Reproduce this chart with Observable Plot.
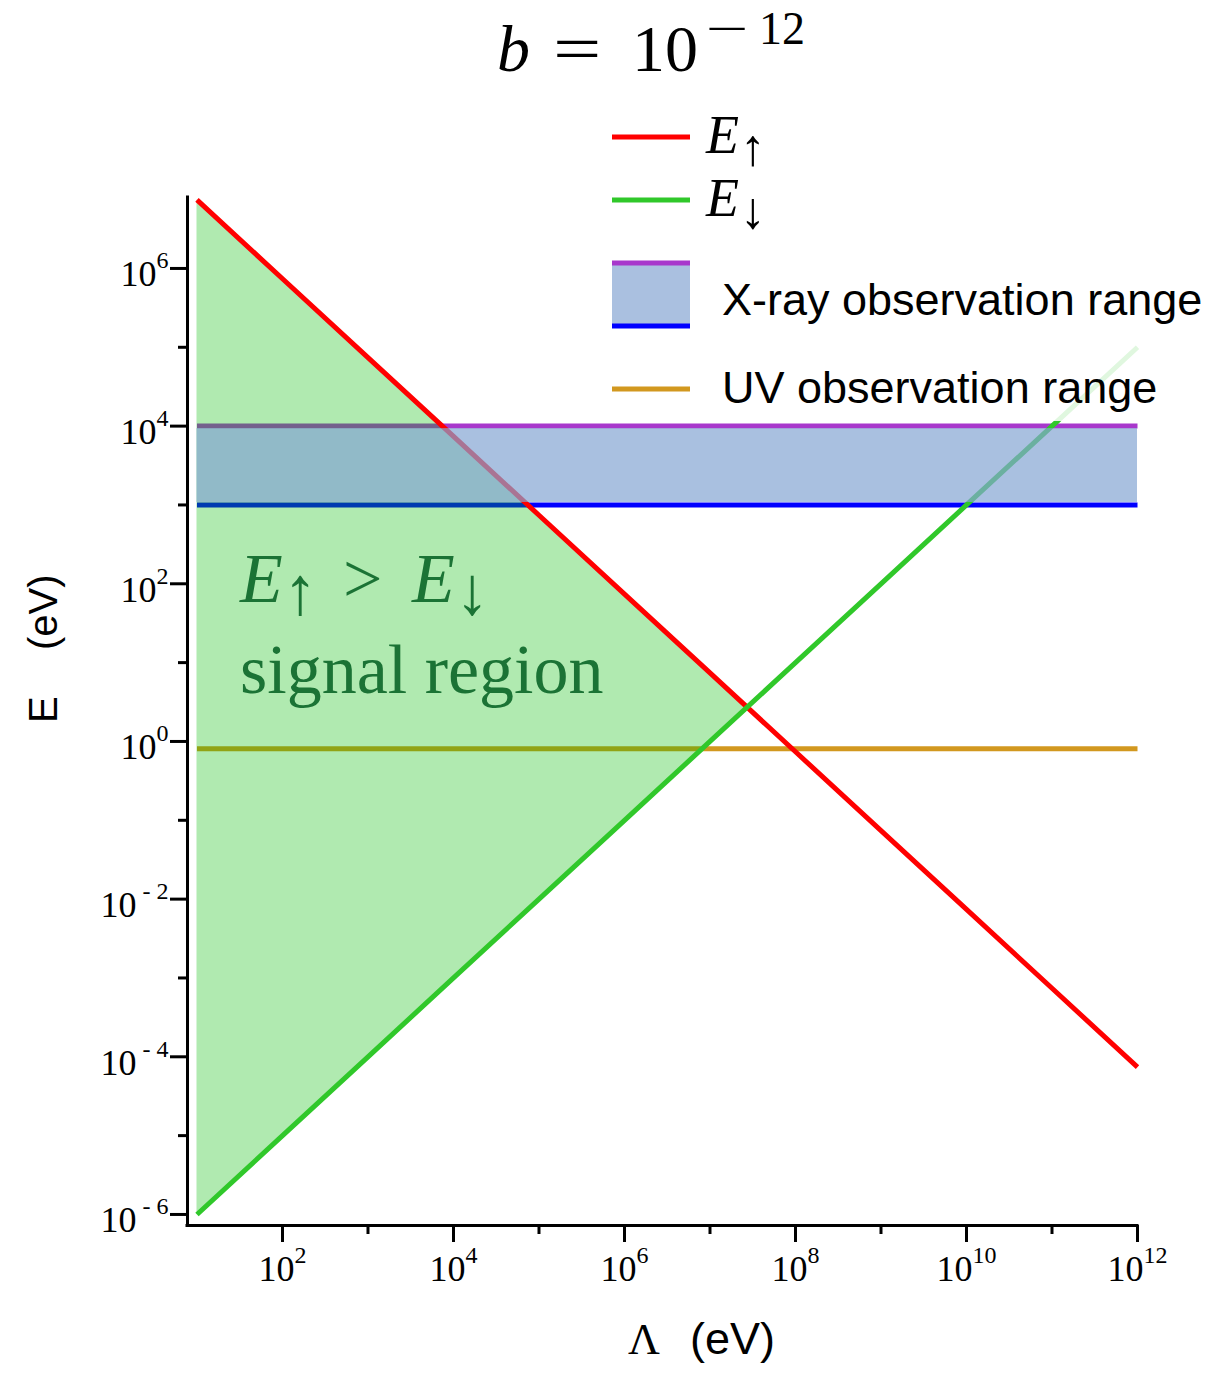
<!DOCTYPE html>
<html>
<head>
<meta charset="utf-8">
<script src="https://cdn.jsdelivr.net/npm/d3@7"></script>
<script src="https://cdn.jsdelivr.net/npm/@observablehq/plot@0.6"></script>
<style>
  body { margin: 0; background: #fff; }
  #wrap { position: relative; width: 1232px; height: 1374px; overflow: hidden; background: #fff; }
  #plot { position: absolute; left: 0; top: 95px; }
  #overlay { position: absolute; left: 0; top: 0; pointer-events: none; }
  .serif { font-family: "Liberation Serif", "Times New Roman", serif; }
  .sans { font-family: "Liberation Sans", Arial, sans-serif; }
</style>
</head>
<body>
<div id="wrap"><div id="plot"></div></div>
<script>
// ---------------- data ----------------
const lambda = [1e1, 1e2, 1e3, 1e4, 1e5, 1e6, 1e7, 1e8, 1e9, 1e10, 1e11, 1e12];
const eUp   = [7.4e6, 7.4e5, 7.4e4, 7.4e3, 740, 74, 7.4, 0.74, 0.074, 7.4e-3, 7.4e-4, 7.4e-5];
const eDown = [1e-6, 1e-5, 1e-4, 1e-3, 1e-2, 1e-1, 1, 10, 100, 1e3, 1e4, 1e5];
const xrayRange = [1e3, 1e4];        // lower (blue) and upper (purple) limits
const uvLevel = [0.81];
const lambdaSpan = [1e1, 1e12];
const xTicks = [1e2, 1e4, 1e6, 1e8, 1e10, 1e12];
const xMinorTicks = [1e3, 1e5, 1e7, 1e9, 1e11];
const yTicks = [1e-6, 1e-4, 1e-2, 1e0, 1e2, 1e4, 1e6];
const yMinorTicks = [1e-5, 1e-3, 1e-1, 1e1, 1e3, 1e5];
const seriesNames = ["E", "E"];
const legendLabels = ["X-ray observation range", "UV observation range"];

// ---------------- derived tables ----------------
const upRows = lambda.map((x, i) => ({x, y: eUp[i]}));
const downRows = lambda.map((x, i) => ({x, y: eDown[i]}));
// signal region: between E_down and E_up up to their crossing
const signal = [];
for (let i = 0; i < lambda.length; i++) {
  if (eUp[i] >= eDown[i]) { signal.push({x: lambda[i], lo: eDown[i], hi: eUp[i]}); continue; }
  const L = Math.log10;
  const d0 = L(eUp[i-1]) - L(eDown[i-1]), d1 = L(eUp[i]) - L(eDown[i]);
  const t = d0 / (d0 - d1);
  const lx = L(lambda[i-1]) + t * (L(lambda[i]) - L(lambda[i-1]));
  const ly = L(eDown[i-1]) + t * (L(eDown[i]) - L(eDown[i-1]));
  signal.push({x: 10 ** lx, lo: 10 ** ly, hi: 10 ** ly});
  break;
}
const hline = v => lambdaSpan.map(x => ({x, y: v}));
const band = [{x1: lambdaSpan[0], x2: lambdaSpan[1], y1: xrayRange[0], y2: xrayRange[1]}];

const xDomain = [10 ** 0.889, 1e12];
const yDomain = [10 ** -6.14, 10 ** 6.90];
const expFmt = d => "10^" + Math.round(Math.log10(d));

const plot = Plot.plot({
  width: 1232, height: 1279,
  marginLeft: 187, marginRight: 95, marginTop: 102, marginBottom: 149,
  x: {type: "log", domain: xDomain},
  y: {type: "log", domain: yDomain},
  style: {fontFamily: "'Liberation Serif', serif", fontSize: "32px", color: "black", background: "transparent"},
  marks: [
    Plot.line(hline(uvLevel[0]), {x: "x", y: "y", stroke: "#d2981f", strokeWidth: 5, strokeLinecap: "butt"}),
    Plot.line(hline(xrayRange[1]), {x: "x", y: "y", stroke: "#a838cc", strokeWidth: 5, strokeLinecap: "butt"}),
    Plot.line(hline(xrayRange[0]), {x: "x", y: "y", stroke: "#0000ff", strokeWidth: 5, strokeLinecap: "butt"}),
    Plot.areaY(signal, {x: "x", y1: "lo", y2: "hi", fill: "#00bb00", fillOpacity: 0.31}),
    Plot.line(upRows, {x: "x", y: "y", stroke: "#ff0000", strokeWidth: 5, strokeLinecap: "butt"}),
    Plot.line(downRows, {x: "x", y: "y", stroke: "#30c82a", strokeWidth: 5, strokeLinecap: "butt"}),
    Plot.rect(band, {x1: "x1", x2: "x2", y1: "y1", y2: "y2", fill: "#85a5d3", fillOpacity: 0.7, insetTop: 2.5, insetBottom: 2.5}),
    Plot.ruleX([xDomain[0]], {strokeWidth: 3, strokeLinecap: "square"}),
    Plot.ruleY([yDomain[0]], {strokeWidth: 3, strokeLinecap: "square"}),
    Plot.axisX(xTicks, {tickSize: 17, tickPadding: 3, strokeWidth: 3, tickFormat: expFmt, label: null}),
    Plot.axisX(xMinorTicks, {tickSize: 9, strokeWidth: 3, tickFormat: () => "", label: null}),
    Plot.axisY(yTicks, {tickSize: 17, tickPadding: 2, strokeWidth: 3, tickFormat: expFmt, label: null}),
    Plot.axisY(yMinorTicks, {tickSize: 9, strokeWidth: 3, tickFormat: () => "", label: null})
  ]
});
document.getElementById("plot").appendChild(plot);

// superscript tick labels
const NS = "http://www.w3.org/2000/svg";
function supify(selector, dy) {
  plot.querySelectorAll(selector).forEach(t => {
    const s = t.textContent;
    if (!s.includes("^")) return;
    const [base, exp] = s.split("^");
    t.textContent = "";
    t.style.whiteSpace = "pre";
    t.style.fontSize = "36px";
    t.style.fontFamily = "'Liberation Serif', serif";
    if ((t.getAttribute("y") || "").endsWith("em")) t.removeAttribute("y");
    t.setAttribute("dy", dy);
    const a = document.createElementNS(NS, "tspan"); a.textContent = base;
    a.style.fontSize = "36px";
    t.appendChild(a);
    const b = document.createElementNS(NS, "tspan");
    b.setAttribute("dy", "-18");
    b.style.fontSize = "24px";
    b.textContent = exp.startsWith("-") ? " - " + exp.slice(1) : exp;
    t.appendChild(b);
  });
}
supify('g[aria-label="x-axis tick label"] text', "35");
supify('g[aria-label="y-axis tick label"] text', "18");

// ---------------- overlay: title, legend, labels ----------------
const ov = d3.select("#wrap").append("svg").attr("id", "overlay").attr("width", 1232).attr("height", 1374);

// title  b = 10^{-12}
const tsz = 66;
ov.append("text").attr("class", "serif").attr("x", 497).attr("y", 71).style("font-size", tsz + "px").style("font-style", "italic").text("b");
ov.append("text").attr("class", "serif").attr("transform", "translate(553,71) scale(1.3,1)").style("font-size", tsz + "px").text("=");
ov.append("text").attr("class", "serif").attr("x", 632).attr("y", 71).style("font-size", tsz + "px").text("10");
ov.append("text").attr("class", "serif").attr("transform", "translate(706,44) scale(1.65,1)").style("font-size", "46px").text("\u2212");
ov.append("text").attr("class", "serif").attr("x", 759).attr("y", 44).style("font-size", "46px").text("12");

// legend
ov.append("rect").attr("x", 596).attr("y", 100).attr("width", 636).attr("height", 321).attr("fill", "#fff").attr("fill-opacity", 0.85);
const sw = (y, c) => ov.append("line").attr("x1", 612).attr("x2", 690).attr("y1", y).attr("y2", y).attr("stroke", c).attr("stroke-width", 5);
sw(137, "#ff0000");
sw(200, "#30c82a");
ov.append("rect").attr("x", 612).attr("y", 263).attr("width", 78).attr("height", 63).attr("fill", "#aac0e0");
sw(263, "#a838cc");
sw(326, "#0000ff");
sw(389, "#d2981f");
const mathE = (x, y, arrow, size) => {
  const t = ov.append("text").attr("class", "serif").attr("x", x).attr("y", y).style("font-size", size + "px");
  t.append("tspan").style("font-style", "italic").text(seriesNames[0]);
  t.append("tspan").attr("dx", 1).attr("dy", 12).style("font-size", (size * 0.95) + "px").text(arrow);
  return t;
};
mathE(706, 153, "\u2191", 54);
mathE(706, 216, "\u2193", 54);
ov.append("text").attr("class", "sans").attr("x", 722).attr("y", 315).style("font-size", "45px").text(legendLabels[0]);
ov.append("text").attr("class", "sans").attr("x", 722).attr("y", 403).style("font-size", "45px").text(legendLabels[1]);

// signal region annotation
const g = "#1b7335";
const s1 = ov.append("text").attr("class", "serif").attr("y", 602).style("font-size", "70px").attr("fill", g);
s1.append("tspan").attr("x", 240).style("font-style", "italic").text("E");
s1.append("tspan").attr("x", 283).style("font-size", "68px").attr("dy", 12).text("\u2191");
s1.append("tspan").attr("x", 343).attr("dy", -12).text(">");
s1.append("tspan").attr("x", 412).style("font-style", "italic").text("E");
s1.append("tspan").attr("x", 455).style("font-size", "68px").attr("dy", 12).text("\u2193");
ov.append("text").attr("class", "serif").attr("x", 240).attr("y", 693).style("font-size", "70px").attr("fill", g).text("signal region");

// axis labels
ov.append("text").attr("class", "sans").attr("transform", "translate(57,723) rotate(-90)").style("font-size", "40px").text("E");
ov.append("text").attr("class", "sans").attr("transform", "translate(57,650) rotate(-90)").style("font-size", "40px").text("(eV)");
ov.append("text").attr("class", "serif").attr("x", 628).attr("y", 1354).style("font-size", "44px").text("\u039B");
ov.append("text").attr("class", "sans").attr("x", 690).attr("y", 1354).style("font-size", "45px").text("(eV)");
</script>
</body>
</html>
